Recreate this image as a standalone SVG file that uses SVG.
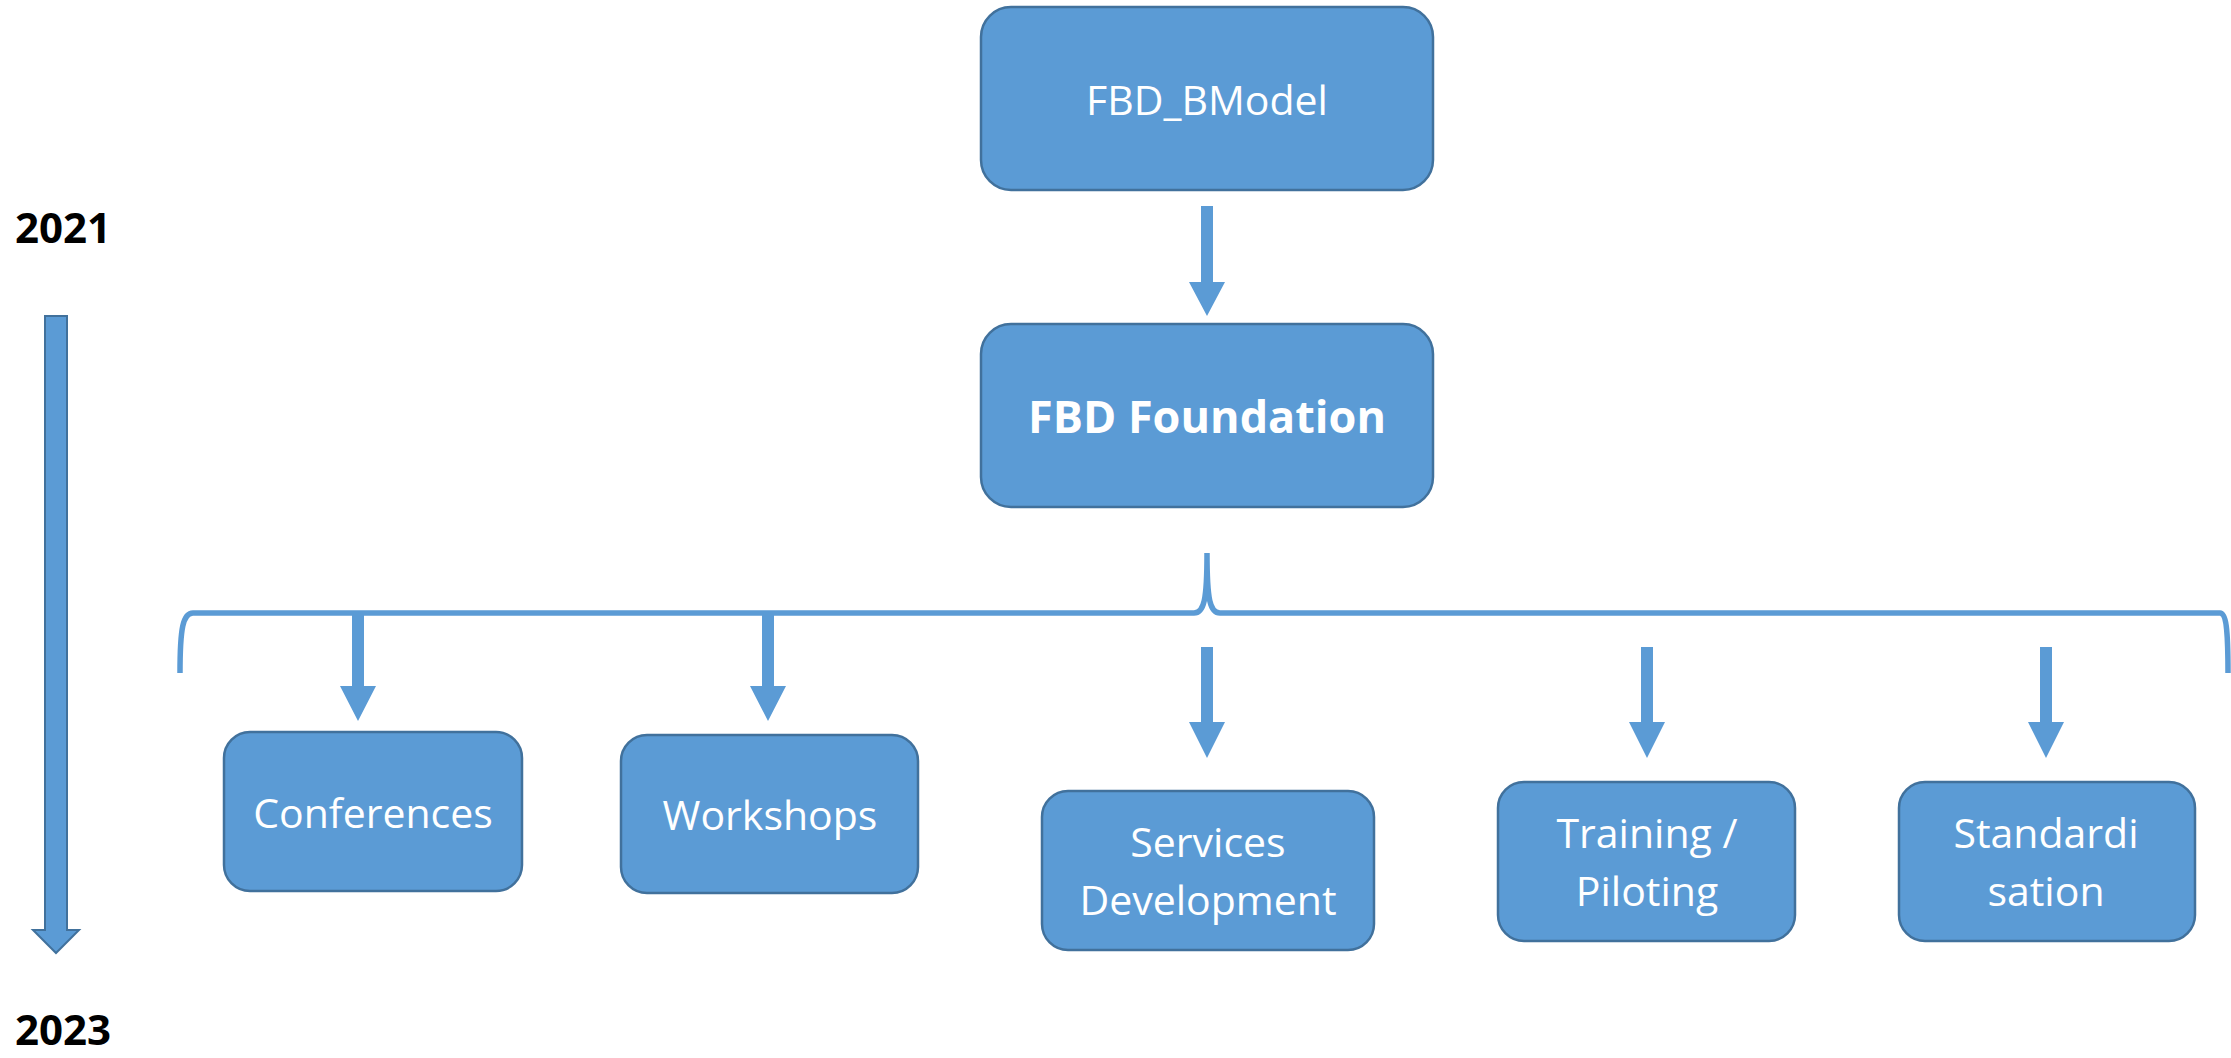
<svg xmlns="http://www.w3.org/2000/svg" width="2231" height="1058" viewBox="0 0 2231 1058">
<style>
.box{fill:#5B9BD5;stroke:#41719C;stroke-width:2.5}
.lbl{fill:#fff;font-family:"Open Sans","Noto Sans",sans-serif;font-size:41px;text-anchor:middle}
.bold{font-weight:bold;font-size:45px}
.year{fill:#000;font-family:"Open Sans","Noto Sans",sans-serif;font-weight:bold;font-size:42px}
.arr{fill:#5B9BD5}
.brace{fill:none;stroke:#5B9BD5;stroke-width:5.5}
</style>
<rect width="2231" height="1058" fill="#fff"/>
<g id="year2021"><text class="year" x="15" y="243">2021</text></g>
<g id="year2023"><text class="year" x="15" y="1045">2023</text></g>
<g id="timeline"><path d="M45,316 H67 V930 H79 L56,953 L33,930 H45 Z" fill="#5B9BD5" stroke="#41719C" stroke-width="2"/></g>
<g id="n_bmodel"><rect class="box" x="981" y="7" width="452" height="183" rx="30"/><text class="lbl" x="1207" y="115">FBD_BModel</text></g>
<g id="n_foundation"><rect class="box" x="981" y="324" width="452" height="183" rx="30"/><text class="lbl bold" x="1207" y="433">FBD Foundation</text></g>
<g id="n_conf"><rect class="box" x="224" y="732" width="298" height="159" rx="26"/><text class="lbl" x="373" y="828">Conferences</text></g>
<g id="n_work"><rect class="box" x="621" y="735" width="297" height="158" rx="26"/><text class="lbl" x="770" y="830">Workshops</text></g>
<g id="n_serv"><rect class="box" x="1042" y="791" width="332" height="159" rx="26"/><text class="lbl" x="1208" y="857">Services</text><text class="lbl" x="1208" y="915">Development</text></g>
<g id="n_train"><rect class="box" x="1498" y="782" width="297" height="159" rx="26"/><text class="lbl" x="1647" y="848">Training /</text><text class="lbl" x="1647" y="906">Piloting</text></g>
<g id="n_std"><rect class="box" x="1899" y="782" width="296" height="159" rx="26"/><text class="lbl" x="2046" y="848">Standardi</text><text class="lbl" x="2046" y="906">sation</text></g>
<g id="connectors">
<path class="arr" d="M1201,206 H1213 V282 H1225 L1207,316 L1189,282 H1201 Z"/>
<path class="brace" d="M180,673 C180,628 183,613 193,613 L1194,613 C1204,613 1207,600 1207,553 C1207,600 1210,613 1220,613 L2220,613 C2226,613 2228,628 2228,673"/>
<path class="arr" d="M352,611 H364 V686 H376 L358,721 L340,686 H352 Z"/>
<path class="arr" d="M762,611 H774 V686 H786 L768,721 L750,686 H762 Z"/>
<path class="arr" d="M1201,647 H1213 V722 H1225 L1207,758 L1189,722 H1201 Z"/>
<path class="arr" d="M1641,647 H1653 V722 H1665 L1647,758 L1629,722 H1641 Z"/>
<path class="arr" d="M2040,647 H2052 V722 H2064 L2046,758 L2028,722 H2040 Z"/>
</g>
</svg>
